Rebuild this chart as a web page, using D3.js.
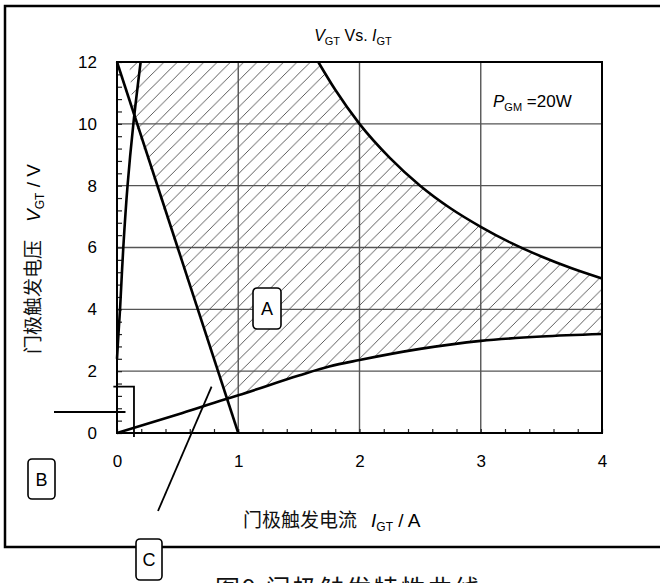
<!DOCTYPE html>
<html>
<head>
<meta charset="utf-8">
<script src="https://cdn.jsdelivr.net/npm/d3@7"></script>
<style>
  body { margin: 0; background: #fff; }
  svg { display: block; }
  text { font-family: "Liberation Sans", Arial, sans-serif; fill: #000; }
  .cjk { font-family: "Noto Sans CJK SC", "Noto Sans", sans-serif; fill: #111; }
</style>
</head>
<body>
<div id="chart"></div>
<script>
// values
const xTicks = [0, 1, 2, 3, 4];
const yTicks = [0, 2, 4, 6, 8, 10, 12];
const xGrid = [1, 2, 3];
const yGrid = [2, 4, 6, 8, 10];

// max gate current limit (steep curve near the V axis)
const steepCurve = [[0, 2.4], [0.012, 3.2], [0.025, 4], [0.052, 6], [0.087, 8], [0.135, 10], [0.195, 12]];
// descending load line
const loadLine = [[0, 12], [0.5, 6], [1, 0]];
// lower V-I characteristic
const lowerCurve = [[0, 0], [0.5, 0.6], [0.9, 1.1], [1, 1.22], [1.5, 1.86], [1.75, 2.15], [2, 2.36],
  [2.5, 2.72], [3, 2.98], [3.5, 3.12], [4, 3.2]];
// P_GM = 20W power curve
const powerCurve = [[1.66, 12], [1.8, 11.1], [2, 10], [2.25, 8.9], [2.5, 8], [2.75, 7.27], [3, 6.67],
  [3.25, 6.15], [3.5, 5.71], [3.75, 5.33], [4, 5]];
// left edge of the hatched zone near the top
const hatchTopLeft = [[0.1, 12], [0.135, 10.2], [0.9, 1.1]];

const width = 660;
const height = 583;

const x = d3.scaleLinear().domain([0, 4]).range([117, 602]);
const y = d3.scaleLinear().domain([0, 12]).range([433, 62]);

const svg = d3.select('#chart').append('svg')
  .attr('width', width)
  .attr('height', height);

// hatch pattern
const defs = svg.append('defs');
const h = 13.3;
defs.append('pattern')
  .attr('id', 'hatch')
  .attr('patternUnits', 'userSpaceOnUse')
  .attr('width', h).attr('height', h)
  .append('path')
  .attr('d', `M0,${h} L${h},0 M${-h / 2},${h / 2} L${h / 2},${-h / 2} M${h / 2},${h * 1.5} L${h * 1.5},${h / 2}`)
  .attr('stroke', '#333')
  .attr('stroke-width', 0.8);

// hatched region: right of load line, above lower curve, below power curve
const hatchPts = hatchTopLeft
  .concat(lowerCurve.filter(d => d[0] > 0.9))
  .concat(powerCurve.slice().reverse());
const lineGen = d3.line().x(d => x(d[0])).y(d => y(d[1]));

svg.append('path')
  .attr('d', d3.line().x(d => x(d[0])).y(d => y(d[1])).curve(d3.curveLinearClosed)(hatchPts))
  .attr('fill', 'url(#hatch)');

// grid
svg.append('g').selectAll('line').data(xGrid).join('line')
  .attr('x1', d => x(d)).attr('x2', d => x(d))
  .attr('y1', y(0)).attr('y2', y(12))
  .attr('stroke', '#555').attr('stroke-width', 1.4);
svg.append('g').selectAll('line').data(yGrid).join('line')
  .attr('x1', x(0)).attr('x2', x(4))
  .attr('y1', d => y(d)).attr('y2', d => y(d))
  .attr('stroke', '#555').attr('stroke-width', 1.4);

// minor ticks
svg.append('g')
  .attr('transform', `translate(${x(0)},0)`)
  .call(d3.axisRight(y).tickValues(d3.range(0, 12.01, 0.4)).tickSize(5).tickFormat(''))
  .call(g => g.select('.domain').remove())
  .call(g => g.selectAll('line').attr('stroke', '#222').attr('stroke-width', 1.2));
svg.append('g')
  .attr('transform', `translate(0,${y(0)})`)
  .call(d3.axisTop(x).tickValues(d3.range(0, 4.01, 0.2)).tickSize(4).tickFormat(''))
  .call(g => g.select('.domain').remove())
  .call(g => g.selectAll('line').attr('stroke', '#222').attr('stroke-width', 1.2));

// tick labels
svg.append('g')
  .attr('transform', `translate(0,${y(0)})`)
  .call(d3.axisBottom(x).tickValues(xTicks).tickSize(0).tickPadding(22).tickFormat(d3.format('d')))
  .call(g => g.select('.domain').remove())
  .call(g => g.selectAll('text').attr('font-size', 17).attr('fill', '#000').attr('font-family', '"Liberation Sans", Arial, sans-serif'));
svg.append('g')
  .attr('transform', `translate(${x(0)},0)`)
  .call(d3.axisLeft(y).tickValues(yTicks).tickSize(0).tickPadding(20).tickFormat(d3.format('d')))
  .call(g => g.select('.domain').remove())
  .call(g => g.selectAll('text').attr('font-size', 17).attr('fill', '#000').attr('font-family', '"Liberation Sans", Arial, sans-serif'));

// plot frame
svg.append('rect')
  .attr('x', x(0)).attr('y', y(12))
  .attr('width', x(4) - x(0)).attr('height', y(0) - y(12))
  .attr('fill', 'none').attr('stroke', '#000').attr('stroke-width', 2);

// curves
const smooth = d3.line().x(d => x(d[0])).y(d => y(d[1])).curve(d3.curveMonotoneX);
svg.append('path').attr('d', lineGen.curve(d3.curveCatmullRom)(steepCurve))
  .attr('fill', 'none').attr('stroke', '#000').attr('stroke-width', 2.6);
svg.append('path').attr('d', d3.line().x(d => x(d[0])).y(d => y(d[1]))(loadLine))
  .attr('fill', 'none').attr('stroke', '#000').attr('stroke-width', 2.6);
svg.append('path').attr('d', smooth(lowerCurve))
  .attr('fill', 'none').attr('stroke', '#000').attr('stroke-width', 2.6);
svg.append('path').attr('d', smooth(powerCurve))
  .attr('fill', 'none').attr('stroke', '#000').attr('stroke-width', 2.6);

// outer frame
svg.append('path')
  .attr('d', 'M660,6 H5 V547 H660')
  .attr('fill', 'none').attr('stroke', '#000').attr('stroke-width', 2.5);

// annotations B and C
svg.append('path')
  .attr('d', `M${x(-0.03)},${y(1.5)} H${x(0.14)} V${y(0) + 4}`)
  .attr('fill', 'none').attr('stroke', '#000').attr('stroke-width', 1.8);
svg.append('line')
  .attr('x1', 54).attr('x2', x(0.07)).attr('y1', y(0.68)).attr('y2', y(0.68))
  .attr('stroke', '#000').attr('stroke-width', 1.8);
svg.append('line')
  .attr('x1', x(0.78)).attr('y1', y(1.5)).attr('x2', 158).attr('y2', 511)
  .attr('stroke', '#000').attr('stroke-width', 1.8);

function labelBox(px, py, w, hh, t) {
  svg.append('rect').attr('x', px).attr('y', py).attr('width', w).attr('height', hh)
    .attr('rx', 4).attr('fill', '#fff').attr('stroke', '#000').attr('stroke-width', 1.6);
  svg.append('text').attr('x', px + w / 2).attr('y', py + hh / 2 + 6.5)
    .attr('text-anchor', 'middle').attr('font-size', 18).text(t);
}
labelBox(253, 288, 28, 41, 'A');
labelBox(28, 459, 27, 40, 'B');
labelBox(136, 539, 26, 41, 'C');

// title
const title = svg.append('text').attr('x', 353).attr('y', 41).attr('text-anchor', 'middle').attr('font-size', 16);
title.append('tspan').attr('font-style', 'italic').text('V');
title.append('tspan').attr('font-size', 11).attr('dy', 4).text('GT');
title.append('tspan').attr('dy', -4).text(' Vs. ');
title.append('tspan').attr('font-style', 'italic').text('I');
title.append('tspan').attr('font-size', 11).attr('dy', 4).text('GT');

// P_GM label
const pg = svg.append('text').attr('x', 493).attr('y', 107).attr('font-size', 17);
pg.append('tspan').attr('font-style', 'italic').text('P');
pg.append('tspan').attr('font-size', 11).attr('dy', 4).text('GM');
pg.append('tspan').attr('dy', -4).text(' =20W');

// y axis title
const yt = svg.append('text').attr('transform', 'translate(40,354) rotate(-90)')
  .attr('font-size', 19);
yt.append('tspan').attr('class', 'cjk').text('门极触发电压');
yt.append('tspan').attr('dx', 18).attr('font-style', 'italic').text('V');
yt.append('tspan').attr('font-size', 12).attr('dy', 4).text('GT');
yt.append('tspan').attr('dy', -4).text(' / V');

// x axis title
const xt = svg.append('text').attr('x', 243).attr('y', 527).attr('font-size', 19);
xt.append('tspan').attr('class', 'cjk').text('门极触发电流');
xt.append('tspan').attr('dx', 14).attr('font-style', 'italic').text('I');
xt.append('tspan').attr('font-size', 12).attr('dy', 4).text('GT');
xt.append('tspan').attr('dy', -4).text(' / A');

// caption, cut by the bottom edge
svg.append('text').attr('x', 215).attr('y', 598).attr('font-size', 25).attr('class', 'cjk')
  .attr('letter-spacing', 2).text('图9  门极触发特性曲线');
</script>
</body>
</html>
